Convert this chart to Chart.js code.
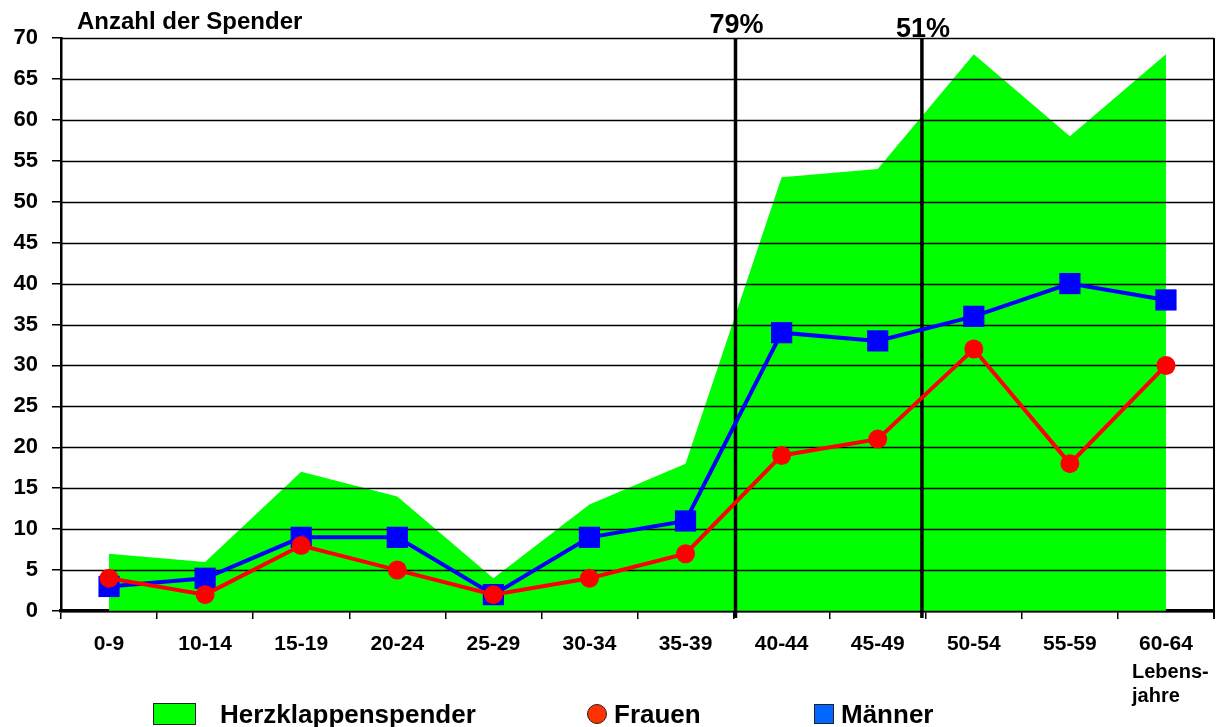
<!DOCTYPE html>
<html><head><meta charset="utf-8">
<script src="https://cdn.jsdelivr.net/npm/chart.js@4.4.1/dist/chart.umd.min.js"></script>
<style>html,body{margin:0;padding:0;background:#fff}#wrap{width:1220px;height:727px}</style>
</head><body><div id="wrap"><canvas id="c" width="1220" height="727"></canvas></div>
<script>
const categories = ['0-9','10-14','15-19','20-24','25-29','30-34','35-39','40-44','45-49','50-54','55-59','60-64'];
const herzklappenspender = [7, 6, 17, 14, 4, 13, 18, 53, 54, 68, 58, 68];
const frauen = [4, 2, 8, 5, 2, 4, 7, 19, 21, 32, 18, 30];
const maenner = [3, 4, 9, 9, 2, 9, 11, 34, 33, 36, 40, 38];
const markerLabels = ['79%', '51%'];
const markerPositions = [6.52, 8.46];
const yTicks = [0,5,10,15,20,25,30,35,40,45,50,55,60,65,70];
const FONT = '"Liberation Sans", Arial, sans-serif';

const overlay = {
  id: 'overlay',
  afterDatasetDraw(chart, args) {
    if (args.index !== 0) return;
    const ctx = chart.ctx, a = chart.chartArea, y = chart.scales.y, x = chart.scales.x;
    ctx.save();
    ctx.strokeStyle = '#000';
    ctx.lineWidth = 1.5;
    yTicks.forEach(v => {
      const py = Math.round(y.getPixelForValue(v)) + 0.5;
      ctx.beginPath(); ctx.moveTo(a.left, py); ctx.lineTo(a.right, py); ctx.stroke();
    });
    ctx.lineWidth = 2;
    ctx.beginPath(); ctx.moveTo(a.right, a.top); ctx.lineTo(a.right, a.bottom + 8); ctx.stroke();
    ctx.lineWidth = 3.5;
    markerPositions.forEach((p, i) => {
      const px = x.getPixelForValue(p);
      ctx.beginPath(); ctx.moveTo(px, a.top); ctx.lineTo(px, a.bottom + 7); ctx.stroke();
      ctx.fillStyle = '#000';
      ctx.font = 'bold 27px ' + FONT;
      ctx.textAlign = 'center'; ctx.textBaseline = 'alphabetic';
      ctx.fillText(markerLabels[i], px + 1, i === 0 ? 33 : 37);
    });
    ctx.restore();
  },
  afterDraw(chart) {
    const ctx = chart.ctx;
    ctx.save();
    ctx.fillStyle = '#000';
    ctx.textBaseline = 'alphabetic';
    ctx.textAlign = 'left';
    ctx.font = 'bold 24px ' + FONT;
    ctx.fillText('Anzahl der Spender', 77, 29);
    ctx.font = 'bold 20px ' + FONT;
    ctx.fillText('Lebens-', 1132, 678);
    ctx.fillText('jahre', 1132, 702);
    // legend
    ctx.lineWidth = 1;
    ctx.strokeStyle = '#222';
    ctx.fillStyle = '#00ff00';
    ctx.fillRect(153.5, 703.5, 42, 21); ctx.strokeRect(153.5, 703.5, 42, 21);
    ctx.fillStyle = '#ff3300';
    ctx.beginPath(); ctx.arc(597, 714, 9.5, 0, Math.PI * 2); ctx.fill(); ctx.stroke();
    ctx.fillStyle = '#0066ff';
    ctx.fillRect(814.5, 704.5, 19, 19); ctx.strokeRect(814.5, 704.5, 19, 19);
    ctx.fillStyle = '#000';
    ctx.font = 'bold 26px ' + FONT;
    ctx.fillText('Herzklappenspender', 220, 723);
    ctx.fillText('Frauen', 614, 723);
    ctx.fillText('Männer', 841, 723);
    ctx.restore();
  }
};

new Chart(document.getElementById('c'), {
  type: 'line',
  data: {
    labels: categories,
    datasets: [
      { label: 'Herzklappenspender', data: herzklappenspender, fill: 'origin',
        backgroundColor: '#00ff00', borderWidth: 0, borderColor: 'rgba(0,0,0,0)',
        pointRadius: 0, tension: 0, order: 3 },
      { label: 'Männer', data: maenner, borderColor: '#0000ff', backgroundColor: '#0000ff',
        borderWidth: 4, pointStyle: 'rect', pointRadius: 15, pointBorderWidth: 0,
        tension: 0, fill: false, order: 2 },
      { label: 'Frauen', data: frauen, borderColor: '#ff0000', backgroundColor: '#ff0000',
        borderWidth: 4, pointStyle: 'circle', pointRadius: 9.5, pointBorderWidth: 0,
        tension: 0, fill: false, order: 1 }
    ]
  },
  options: {
    responsive: false, animation: false, devicePixelRatio: 1,
    layout: { autoPadding: false, padding: { top: 38, right: 6, left: 0, bottom: 0 } },
    plugins: { legend: { display: false }, tooltip: { enabled: false } },
    scales: {
      x: {
        offset: true,
        grid: { offset: true, drawOnChartArea: false, drawTicks: true, tickLength: 8, color: '#000', lineWidth: 1.5 },
        border: { display: true, color: '#000', width: 3.5 },
        ticks: { color: '#000', font: { family: FONT, size: 21, weight: 'bold' }, padding: 13, maxRotation: 0, autoSkip: false },
        afterFit(s) { s.height = 116; s.paddingLeft = 0; s.paddingRight = 0; }
      },
      y: {
        min: 0, max: 70,
        grid: { drawOnChartArea: false, drawTicks: true, tickLength: 9, color: '#000', lineWidth: 1.5 },
        border: { display: true, color: '#000', width: 2.5 },
        ticks: { stepSize: 5, color: '#000', font: { family: FONT, size: 22, weight: 'bold' }, padding: 14 },
        afterFit(s) { s.width = 61; s.paddingTop = 0; s.paddingBottom = 0; }
      }
    }
  },
  plugins: [overlay]
});
</script></body></html>
